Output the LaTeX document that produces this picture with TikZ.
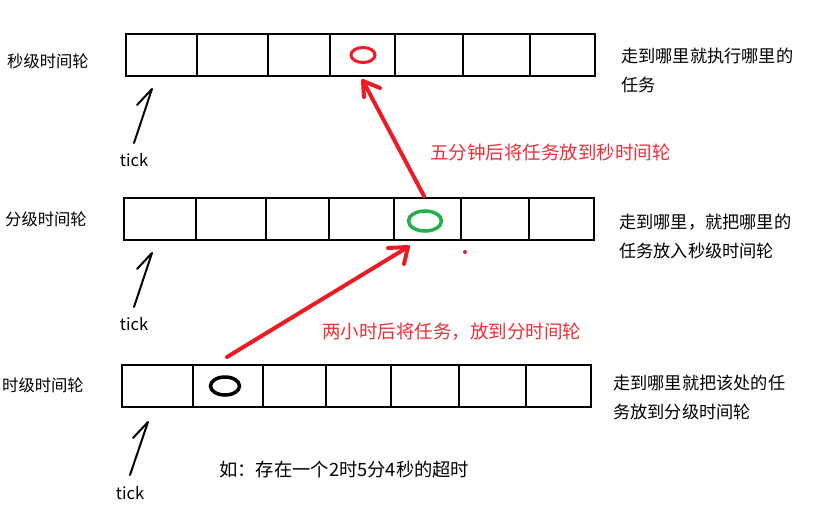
\documentclass[tikz,border=0pt]{standalone}
\usepackage{fontspec}
\setmainfont{Noto Sans CJK SC}
\definecolor{myred}{RGB}{237,28,36}
\definecolor{txtred}{RGB}{240,45,55}
\definecolor{mygreen}{RGB}{34,177,76}
\tikzset{
  wheel/.style={draw=black, line width=2pt},
  lbl/.style={anchor=west, inner sep=0pt, font=\fontsize{16.3}{20}\selectfont},
  note/.style={anchor=north west, inner sep=0pt, align=left, font=\fontsize{17.2}{29}\selectfont},
  rednote/.style={anchor=west, inner sep=0pt, text=txtred, font=\fontsize{18.5}{22}\selectfont},
  ticktxt/.style={anchor=center, inner sep=0pt, font=\fontsize{16.5}{20}\selectfont},
  tickarrow/.style={draw=black, line width=2pt, line cap=round, line join=round},
  bigarrow/.style={draw=myred, line width=4pt, line cap=round, line join=round}
}
\begin{document}
\begin{tikzpicture}[x=1pt,y=-1pt]
\useasboundingbox (0,0) rectangle (834,524);
% ---------- second wheel ----------
\draw[wheel] (126,34) rectangle (595,76);
\foreach \x in {197,268,330,395,463,530} \draw[wheel] (\x,34) -- (\x,76);
\draw[myred, line width=3pt] (363,55) ellipse [x radius=12, y radius=7.5];
\node[lbl] (lsec) at (7,61) {秒级时间轮};
\node[note] (nsec) at (621,48) {走到哪里就执行哪里的\\任务};
% ---------- minute wheel ----------
\draw[wheel] (124,198) rectangle (594,240);
\foreach \x in {196,266,329,394,461,529} \draw[wheel] (\x,198) -- (\x,240);
\draw[mygreen, line width=3.5pt] (425,221) ellipse [x radius=16.5, y radius=10];
\fill[myred] (465,252) circle (2pt);
\node[lbl] (lmin) at (5,219) {分级时间轮};
\node[note] (nmin) at (619,214) {走到哪里，就把哪里的\\任务放入秒级时间轮};
% ---------- hour wheel ----------
\draw[wheel] (122,365) rectangle (591,407);
\foreach \x in {193,263,326,391,459,526} \draw[wheel] (\x,365) -- (\x,407);
\draw[black, line width=3.5pt] (225,386) ellipse [x radius=14.5, y radius=9];
\node[lbl] (lhour) at (2,385) {时级时间轮};
\node[note] (nhour) at (613,375) {走到哪里就把该处的任\\务放到分级时间轮};
% ---------- ticks ----------
\coordinate (t1a) at (134,143); \coordinate (t1b) at (152,89); \coordinate (t1c) at (137,105);
\draw[tickarrow] (t1a) -- (t1b) -- (t1c);
\node[ticktxt] (tick1) at (134,160) {tick};
\coordinate (t2a) at (134,307); \coordinate (t2b) at (152,253); \coordinate (t2c) at (137,269);
\draw[tickarrow] (t2a) -- (t2b) -- (t2c);
\node[ticktxt] (tick2) at (134,324) {tick};
\coordinate (t3a) at (130,475); \coordinate (t3b) at (148,422); \coordinate (t3c) at (133,438);
\draw[tickarrow] (t3a) -- (t3b) -- (t3c);
\node[ticktxt] (tick3) at (130,493) {tick};
% ---------- red arrows ----------
\coordinate (a1s) at (227,357); \coordinate (a1t) at (408,247);
\coordinate (a1l) at (388,248); \coordinate (a1r) at (404,264);
\draw[bigarrow] (a1s) -- (a1t);
\draw[bigarrow] (a1l) -- (a1t) -- (a1r);
\coordinate (a2s) at (424,196); \coordinate (a2t) at (363,81);
\coordinate (a2l) at (364,97); \coordinate (a2r) at (380,88);
\draw[bigarrow] (a2s) -- (a2t);
\draw[bigarrow] (a2l) -- (a2t) -- (a2r);
\node[rednote] (r1) at (430,152) {五分钟后将任务放到秒时间轮};
\node[rednote] (r2) at (322,332) {两小时后将任务，放到分时间轮};
% ---------- example ----------
\node[lbl, font=\fontsize{18.3}{20}\selectfont] (ex) at (219,470) {如：存在一个2时5分4秒的超时};
\end{tikzpicture}
\end{document}
